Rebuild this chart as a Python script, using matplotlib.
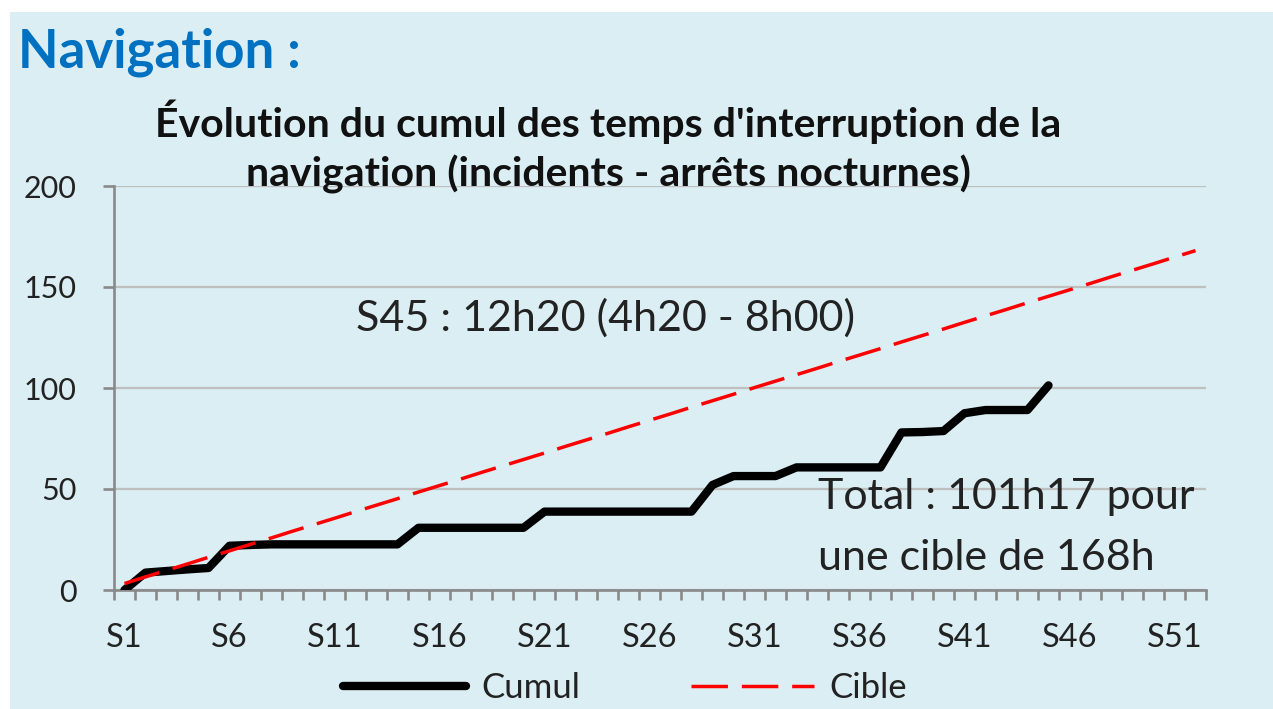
import matplotlib
matplotlib.use("Agg")
import matplotlib.pyplot as plt
from matplotlib.patches import Rectangle
from matplotlib.ticker import FixedLocator

plt.rcParams['font.family'] = ['Lato', 'DejaVu Sans']

# ---- data ----
weeks = list(range(1, 53))  # S1..S52
tick_positions = [1, 6, 11, 16, 21, 26, 31, 36, 41, 46, 51]
tick_labels = ["S1", "S6", "S11", "S16", "S21", "S26", "S31", "S36", "S41", "S46", "S51"]

cumul = [0, 8.6, 9.4, 10.2, 10.9, 21.9, 22.3, 22.6, 22.6, 22.6,
         22.6, 22.6, 22.6, 22.6, 30.8, 30.8, 30.8, 30.8, 30.8, 30.8,
         38.8, 38.8, 38.8, 38.8, 38.8, 38.8, 38.8, 38.8, 52.0, 56.4,
         56.4, 56.4, 60.7, 60.7, 60.7, 60.7, 60.7, 78.0, 78.2, 78.7,
         87.5, 89.1, 89.1, 89.1, 101.3]

cible = [3.2, 6.5, 9.7, 12.9, 16.2, 19.4, 22.6, 25.8, 29.1, 32.3,
         35.5, 38.8, 42.0, 45.2, 48.5, 51.7, 54.9, 58.2, 61.4, 64.6,
         67.8, 71.1, 74.3, 77.5, 80.8, 84.0, 87.2, 90.5, 93.7, 96.9,
         100.2, 103.4, 106.6, 109.8, 113.1, 116.3, 119.5, 122.8, 126.0, 129.2,
         132.5, 135.7, 138.9, 142.2, 145.4, 148.6, 151.8, 155.1, 158.3, 161.5,
         164.8, 168.0]

y_ticks = [0, 50, 100, 150, 200]

W, H = 1273, 709
BG = "#DAEEF3"
AX_GRAY = "#898989"

fig = plt.figure(figsize=(W / 100, H / 100), dpi=100, facecolor="white")
fig.patches.append(Rectangle((10 / W, 0), 1 - 10 / W, 1 - 12 / H,
                             transform=fig.transFigure, facecolor=BG,
                             edgecolor="none", zorder=-10))

ax = fig.add_axes([114 / W, 1 - 590 / H, (1206 - 114) / W, (590 - 186) / H])
ax.set_facecolor("none")

ax.plot(weeks[:len(cumul)], cumul, color="black", lw=6.0,
        solid_joinstyle="round", solid_capstyle="round", label="Cumul", zorder=3)
ax.plot(weeks, cible, color="#FF0000", lw=2.5, dashes=(10.5, 4),
        label="Cible", zorder=4)

ax.set_xlim(0.5, 52.5)
ax.set_ylim(0, 200)

ax.set_yticks(y_ticks)
ax.yaxis.grid(True, color="#BFBFBF", lw=1.6)
ax.set_axisbelow(True)
ax.xaxis.set_major_locator(FixedLocator(tick_positions))
ax.set_xticklabels(tick_labels)
ax.xaxis.set_minor_locator(FixedLocator([i + 0.5 for i in range(0, 53)]))

for s in ["top", "right"]:
    ax.spines[s].set_visible(False)
for s in ["left", "bottom"]:
    ax.spines[s].set_color(AX_GRAY)
    ax.spines[s].set_linewidth(1.9)

ax.tick_params(axis="y", which="major", direction="out", length=8, width=1.9,
               color=AX_GRAY, labelsize=22, labelcolor="#222222", pad=19)
ax.tick_params(axis="x", which="major", length=0, labelsize=23.5,
               labelcolor="#222222", pad=24)
ax.tick_params(axis="x", which="minor", direction="out", length=7, width=1.9,
               color=AX_GRAY)

# Titles
fig.text(18 / W, 1 - 52 / H, "Navigation :", color="#0070C0", fontsize=38,
         fontweight="bold", ha="left", va="center")
fig.text(608 / W, 1 - 122 / H, "Évolution du cumul des temps d'interruption de la",
         fontsize=29.5, fontweight="bold", ha="center", va="center", color="#111111")
fig.text(608 / W, 1 - 174 / H, "navigation (incidents - arrêts nocturnes)",
         fontsize=29.5, fontweight="bold", ha="center", va="center", color="#111111")

# Annotations
fig.text(606 / W, 1 - 318 / H, "S45 : 12h20 (4h20 - 8h00)", fontsize=31,
         ha="center", va="center", color="#222222")
fig.text(818 / W, 1 - 497 / H, "Total : 101h17 pour", fontsize=31,
         ha="left", va="center", color="#222222")
fig.text(818 / W, 1 - 558 / H, "une cible de 168h", fontsize=31,
         ha="left", va="center", color="#222222")

leg = fig.legend(loc="center", bbox_to_anchor=(625 / W, 1 - 688 / H), ncol=2,
                 frameon=False, fontsize=25, handlelength=3.55, handletextpad=0.43,
                 columnspacing=3.2, borderaxespad=0)
for t in leg.get_texts():
    t.set_color("#222222")

fig.savefig("out.png", dpi=100, facecolor="white")
